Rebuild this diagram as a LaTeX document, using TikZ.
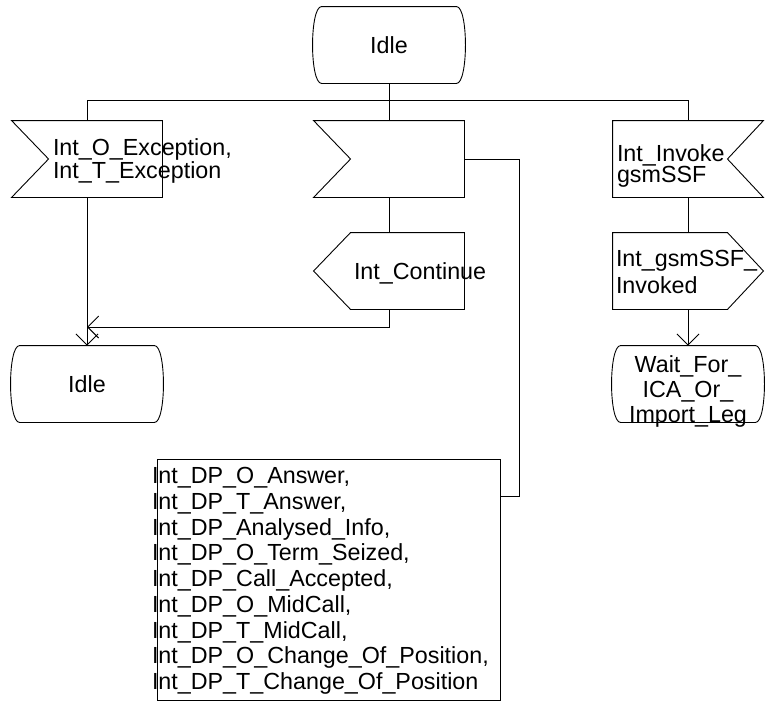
\documentclass[tikz,border=0pt]{standalone}
\usepackage{fontspec}
\setmainfont{Liberation Sans}
\usepackage{tikz}
\usetikzlibrary{arrows.meta}

\begin{document}
\begin{tikzpicture}[
  x=1pt,y=-1pt,line width=0.9pt,
  every node/.style={font=\fontsize{23.3pt}{26pt}\selectfont},
  sym/.style={minimum width=150pt,minimum height=76pt,inner sep=0pt},
  state/.style={sym,minimum width=152pt},
  txt/.style={inner sep=0pt,align=left,anchor=west},
  arr/.style={-{Straight Barb[length=11pt,width=22pt]}},
]
  \useasboundingbox (0,0) rectangle (771,705);

  % states
  \node[state] (idleA) at (389,45) {Idle};
  \node[state] (idleB) at (87,384) {Idle};
  \node[state] (wait) at (688,384) {};
  \node[inner sep=0pt,align=center,font=\fontsize{23.3pt}{25pt}\selectfont] (waitT) at (688,391) {Wait\_For\_\\ICA\_Or\_\\Import\_Leg};

  % inputs
  \node[sym] (exc) at (87,159) {};
  \node[sym] (mid) at (389,159) {};
  \node[sym] (inv) at (688,159) {};
  \node[txt,font=\fontsize{23.3pt}{20pt}\selectfont] (excT) at ([xshift=41pt,yshift=-2pt]exc.west) {Int\_O\_Exception,\\Int\_T\_Exception};
  \node[txt,font=\fontsize{23.3pt}{18pt}\selectfont] (invT) at ([xshift=4pt,yshift=-7pt]inv.west) {Int\_Invoke\\gsmSSF};

  % outputs
  \node[sym] (cont) at (389,271) {};
  \node[sym] (gok) at (688,271) {};
  \node[txt] (contT) at ([xshift=40pt,yshift=-2.5pt]cont.west) {Int\_Continue};
  \node[txt,font=\fontsize{23.3pt}{26.5pt}\selectfont] (gokT) at ([xshift=3pt,yshift=-1pt]gok.west) {Int\_gsmSSF\_\\Invoked};

  % list of detection points
  \node[draw,minimum width=343pt,minimum height=241pt,inner sep=0pt] (dps) at (328.5,579.5) {};
  \node[txt,font=\fontsize{23.3pt}{25.75pt}\selectfont] (dpsT) at ([xshift=-5pt,yshift=-1.5pt]dps.west) {Int\_DP\_O\_Answer,\\Int\_DP\_T\_Answer,\\Int\_DP\_Analysed\_Info,\\Int\_DP\_O\_Term\_Seized,\\Int\_DP\_Call\_Accepted,\\Int\_DP\_O\_MidCall,\\Int\_DP\_T\_MidCall,\\Int\_DP\_O\_Change\_Of\_Position,\\Int\_DP\_T\_Change\_Of\_Position};

  % outlines
  \foreach \n in {idleA,idleB,wait}
    \draw ([xshift=9pt]\n.north west) -- ([xshift=-9pt]\n.north east)
      .. controls ([xshift=3pt]\n.north east) and ([xshift=3pt]\n.south east) .. ([xshift=-9pt]\n.south east)
      -- ([xshift=9pt]\n.south west)
      .. controls ([xshift=-3pt]\n.south west) and ([xshift=-3pt]\n.north west) .. cycle;
  \foreach \n in {exc,mid}
    \draw (\n.north west) -- (\n.north east) -- (\n.south east) -- (\n.south west) -- ([xshift=37pt]\n.west) -- cycle;
  \draw (inv.north west) -- (inv.north east) -- ([xshift=-36pt]inv.east) -- (inv.south east) -- (inv.south west) -- cycle;
  \draw (cont.west) -- ([xshift=37pt]cont.north west) -- (cont.north east) -- (cont.south east) -- ([xshift=37pt]cont.south west) -- cycle;
  \draw (gok.north west) -- ([xshift=-36pt]gok.north east) -- (gok.east) -- ([xshift=-36pt]gok.south east) -- (gok.south west) -- cycle;

  % connectors
  \draw (idleA.south) -- (mid.north);
  \draw (exc.north) -- ++(0,-20) -| (inv.north);
  \draw (mid.south) -- (cont.north);
  \coordinate (jn) at (87,327);
  \draw[arr] (cont.south) |- (jn);
  \draw[arr] (exc.south) -- (idleB.north);
  \draw (inv.south) -- (gok.north);
  \draw[arr] (gok.south) -- (wait.north);
  \draw (mid.east) -| ([xshift=19pt,yshift=-38pt]dps.north east) -- ([yshift=-38pt]dps.north east);
\end{tikzpicture}
\end{document}
